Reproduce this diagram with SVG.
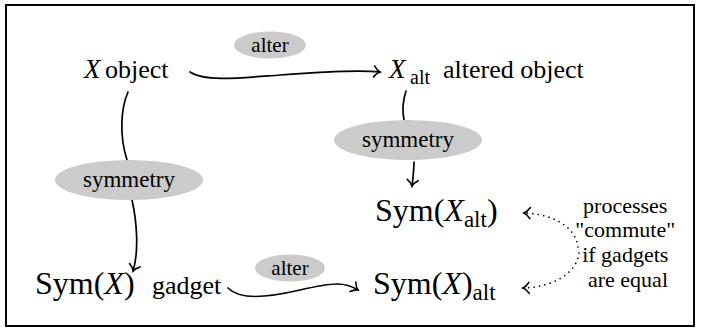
<svg xmlns="http://www.w3.org/2000/svg" width="701" height="333" viewBox="0 0 701 333">
  <style>
    text { font-family: 'Liberation Serif', serif; fill: #000; }
    .it { font-style: italic; }
    .bubble { fill: #cbcbcb; stroke: none; }
    .edge { fill: none; stroke: #000; stroke-width: 1.7; stroke-linecap: round; }
    .dots { fill: none; stroke: #000; stroke-width: 1.7; stroke-linecap: round; stroke-dasharray: 0 5.5; }
  </style>
  <defs>
    <marker id="to" viewBox="-8 -7 10 14" markerWidth="10" markerHeight="14" refX="0" refY="0" orient="auto" markerUnits="userSpaceOnUse">
      <path d="M -6 -5.5 C -4 -2.5, -1.5 -0.6, 0 0 C -1.5 0.6, -4 2.5, -6 5.5" fill="none" stroke="#000" stroke-width="1.6" stroke-linecap="round"/>
    </marker>
  </defs>

  <rect x="6" y="5" width="688" height="321" fill="#fff" stroke="#000" stroke-width="2"/>

  <!-- connectors -->
  <g id="connectors">
    <path class="edge" d="M 190 72 C 205 82, 240 78, 280 75 S 360 70, 380 72" marker-end="url(#to)"/>
    <path class="edge" d="M 128 92 C 121 108, 119 135, 127 160"/>
    <path class="edge" d="M 132 200 C 137 222, 139 252, 133 271" marker-end="url(#to)"/>
    <path class="edge" d="M 406 91 C 403 100, 402 110, 404 120"/>
    <path class="edge" d="M 414 162 C 414 170, 413 178, 412 186" marker-end="url(#to)"/>
    <path class="edge" d="M 228 288 C 240 300, 265 298, 300 290 S 345 282, 358 290" marker-end="url(#to)"/>
    <path class="dots" d="M 578 247 C 576 228, 555 214, 524 213" marker-end="url(#to)"/>
    <path class="dots" d="M 579 253 C 577 272, 555 287, 523 288" marker-end="url(#to)"/>
  </g>

  <!-- bubbles on the edges -->
  <g id="alter-top">
    <ellipse class="bubble" cx="270" cy="45" rx="36" ry="13.5"/>
    <text x="270" y="52" font-size="21" text-anchor="middle">alter</text>
  </g>
  <g id="symmetry-right">
    <ellipse class="bubble" cx="408" cy="140" rx="74" ry="20"/>
    <text x="408" y="147" font-size="23" text-anchor="middle">symmetry</text>
  </g>
  <g id="symmetry-left">
    <ellipse class="bubble" cx="129" cy="180" rx="74" ry="20"/>
    <text x="129" y="187" font-size="23" text-anchor="middle">symmetry</text>
  </g>
  <g id="alter-bottom">
    <ellipse class="bubble" cx="290" cy="268" rx="35" ry="13.5"/>
    <text x="290" y="275" font-size="21" text-anchor="middle">alter</text>
  </g>

  <!-- nodes -->
  <g id="object">
    <text x="84" y="78" font-size="27"><tspan class="it">X</tspan><tspan x="105" font-size="26">object</tspan></text>
  </g>
  <g id="altered-object">
    <text x="389" y="78" font-size="27"><tspan class="it">X</tspan><tspan x="410" dy="6" font-size="20">alt</tspan><tspan x="443" dy="-6" font-size="26">altered object</tspan></text>
  </g>
  <g id="sym-altered">
    <text x="375" y="221" font-size="32">Sym(<tspan class="it">X</tspan><tspan font-size="23" dy="6">alt</tspan><tspan dy="-6">)</tspan></text>
  </g>
  <g id="gadget">
    <text x="35" y="294" font-size="32">Sym(<tspan class="it">X</tspan>)<tspan x="152" font-size="26">gadget</tspan></text>
  </g>
  <g id="gadget-altered">
    <text x="373" y="294" font-size="32">Sym(<tspan class="it">X</tspan>)<tspan font-size="23" dy="6">alt</tspan></text>
  </g>
  <g id="note">
    <text font-size="22" text-anchor="middle">
      <tspan x="628" y="213">processes</tspan>
      <tspan x="628" y="237">"commute"</tspan>
      <tspan x="628" y="262">if gadgets</tspan>
      <tspan x="628" y="287">are equal</tspan>
    </text>
  </g>
</svg>
